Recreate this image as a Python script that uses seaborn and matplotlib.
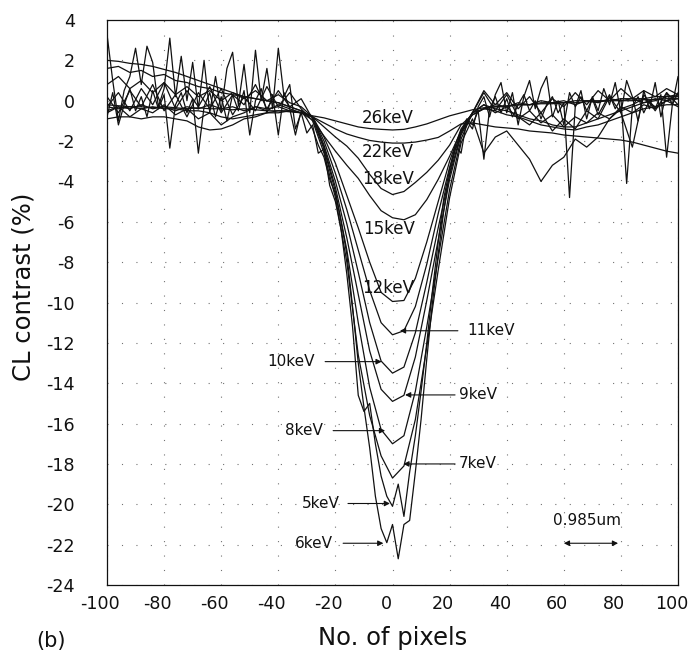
import matplotlib
matplotlib.use("Agg")
import matplotlib.pyplot as plt
import matplotlib.transforms as mtransforms
import pandas as pd
import seaborn as sns

# pixel positions along the line scan
pixels_fine = list(range(-100, 101, 2))     # 101 samples, used for the noisiest scans
pixels_coarse = list(range(-100, 101, 4))   # 51 samples

# CL contrast (%), one list per beam energy
cl_5kev = [
    3.3, 1.0, -1.0, 0.5, 1.2, 2.6, 0.8, 2.7, 1.9, -0.3, 0.6, 3.1, 0.2, 2.2, 0.0, 1.9, -0.4, 2.0,
    -0.6, 1.2, -0.5, 1.6, 2.4, -0.2, 1.8, -0.6, 2.5, 0.0, 1.6, -0.4, 2.6, 0.2, 0.8, -1.4, -0.6,
    -1.6, -1.2, -2.6, -2.4, -4.2, -5.0, -6.4, -8.6, -11.2, -14.6, -15.4, -15.0, -17.0, -18.6, -19.6, -20.1,
    -19.0, -20.6, -18.4, -16.6, -14.4, -12.0, -9.4, -7.0, -4.8, -3.4, -2.2, -2.6, -1.0, -1.4, -0.3,
    0.2, -0.8, 0.3, 0.9, -0.6, 0.4, -1.2, 0.2, 1.0, -0.4, 0.6, 1.2, -0.8, 0.0, -1.2, 0.4, -0.3, 0.5,
    -0.9, 0.2, -0.5, 0.6, -0.2, 0.9, -0.6, 1.0, 0.2, -1.0, 0.5, -0.4, 0.9, -0.8, 0.4, -0.2, 1.2]
cl_6kev = [
    -0.8, 0.4, -1.2, -0.2, 0.6, -0.5, 0.2, -0.8, 0.5, -0.4, 0.3, -2.35, -0.2, 0.4, -0.6, 0.1, -2.6, -0.3,
    0.4, -0.8, 0.2, -1.0, 0.3, -0.5, 0.5, -1.7, 0.0, 0.6, -0.6, 0.3, -1.7, 0.4, -0.4, -1.7, -0.5,
    -0.9, -1.4, -2.2, -2.8, -3.9, -4.6, -6.0, -7.6, -10.2, -13.0, -15.2, -17.2, -19.6, -21.2, -21.9, -21.0,
    -22.7, -21.0, -20.8, -18.4, -15.8, -12.8, -10.0, -7.6, -5.4, -3.6, -2.4, -1.6, -0.9, -1.2, -0.5,
    -2.9, -0.4, 0.2, -0.6, 0.1, -0.8, -0.2, 0.3, -0.5, 0.0, -0.9, -0.2, 0.2, -0.6, -0.1, -4.8, -0.3, 0.2,
    -0.5, 0.1, -0.7, -0.2, 0.3, -0.4, 0.1, -4.1, -0.3, 0.2, -0.6, 0.0, -0.4, 0.3, -2.8, -0.2, 0.4]
cl_7kev = [
    0.2, -0.6, 0.5, -0.3, 0.8, -0.5, 0.3, -0.8, 0.4, -0.4, 0.6, -0.7, 0.2, -0.5, 0.7, -0.3, 0.4, -0.4,
    -1.0, -2.6, -4.8, -8.0, -12.6, -15.6, -17.6, -18.7, -18.1, -15.8, -12.2, -8.4, -4.8, -2.1, -0.9,
    -2.6, -1.8, -1.5, -2.2, -2.9, -4.0, -3.2, -2.8, -1.9, -2.3, -1.8, -0.9, -0.4, -0.2, 0.1, -0.3, 0.0, 0.3]
cl_8kev = [
    -0.3, 0.4, -0.5, 0.6, -0.2, 0.9, -0.4, 0.5, -0.3, 0.7, -0.6, 0.3, -0.2, 0.8, -0.4, 0.5, -0.3, 0.1,
    -0.9, -2.4, -4.5, -7.4, -11.0, -14.2, -16.3, -17.0, -16.6, -14.4, -11.2, -7.8, -4.4, -1.9, -0.6,
    0.4, -0.5, 0.3, -0.8, -1.2, -0.6, -1.5, -0.9, -1.4, -0.5, -0.9, 0.2, -0.6, -2.3, 0.3, -0.5, 0.4, -0.2]
cl_9kev = [
    -0.6, -0.3, -0.8, -0.4, -0.6, -0.2, -0.7, -0.4, -0.9, -0.6, -1.2, -0.8, -0.6, -0.3, -0.5, -0.2, -0.4, -0.6,
    -0.8, -2.3, -4.3, -6.8, -9.6, -12.4, -14.3, -14.9, -14.6, -12.7, -9.9, -6.9, -3.9, -1.7, -0.6,
    -0.2, -0.6, -0.3, -0.9, -0.5, -1.1, -0.7, -1.3, -0.8, -1.1, -0.6, -0.9, -0.3, -0.6, -0.2, -0.4, 0.0, -0.3]
cl_10kev = [
    0.8, 1.2, 0.6, 1.0, 0.4, 0.9, 0.3, 0.7, 0.2, 0.5, 0.0, 0.4, 0.1, 0.5, 0.0, 0.3, -0.1, -0.3,
    -0.8, -2.2, -4.0, -6.1, -8.5, -11.0, -12.9, -13.5, -13.2, -11.5, -9.0, -6.3, -3.7, -1.6, -0.6,
    0.5, -0.2, 0.4, -0.4, 0.2, -0.6, 0.1, -0.3, 0.4, -0.2, 0.5, 0.0, 0.6, 0.1, 0.5, 0.2, 0.6, 0.3]
cl_11kev = [
    -0.5, -0.3, -0.4, -0.2, -0.4, -0.3, -0.5, -0.3, -0.4, -0.2, -0.4, -0.3, -0.5, -0.3, -0.4, -0.3, -0.5, -0.6,
    -0.8, -2.0, -3.6, -5.4, -7.4, -9.4, -11.0, -11.6, -11.4, -10.2, -8.1, -5.6, -3.3, -1.5, -0.6,
    -0.4, -0.2, -0.3, -0.1, -0.2, 0.0, -0.1, 0.0, -0.2, 0.0, -0.1, 0.1, 0.0, 0.1, -0.1, 0.1, 0.0, 0.1]
cl_12kev = [
    1.6, 1.7, 1.4, 1.5, 1.2, 1.3, 1.0, 0.9, 0.7, 0.6, 0.4, 0.3, 0.2, 0.1, 0.0, -0.1, -0.3, -0.5,
    -0.8, -1.8, -3.1, -4.7, -6.3, -8.0, -9.5, -9.95, -9.9, -8.8, -7.0, -5.0, -3.0, -1.4, -0.6,
    -0.2, -0.4, -0.5, -0.7, -0.9, -1.0, -1.2, -1.3, -1.3, -1.1, -0.9, -0.7, -0.5, -0.3, -0.1, 0.0, 0.2, 0.3]
cl_15kev = [
    -0.9, -0.8, -0.8, -0.9, -0.8, -0.8, -0.9, -1.0, -1.3, -1.45, -1.4, -1.2, -0.9, -0.8, -0.6, -0.6, -0.5, -0.6,
    -0.95, -1.75, -2.5, -3.2, -3.85, -4.7, -5.45, -5.8, -5.9, -5.65, -4.9, -3.9, -2.75, -1.5, -0.7,
    -0.4, -0.3, -0.3, -0.2, -0.2, -0.1, -0.1, -0.1, 0.0, 0.0, 0.0, 0.0, 0.1, 0.1, 0.1, 0.2, 0.2, 0.2]
cl_18kev = [
    -0.3, -0.4, -0.3, -0.4, -0.3, -0.4, -0.4, -0.5, -0.5, -0.6, -0.8, -0.9, -0.8, -0.7, -0.6, -0.5, -0.5, -0.6,
    -0.8, -1.3, -1.8, -2.25, -2.85, -3.65, -4.35, -4.65, -4.5, -4.05, -3.55, -2.95, -2.2, -1.2, -0.7,
    -0.4, -0.5, -0.7, -0.8, -1.0, -1.2, -1.3, -1.4, -1.45, -1.3, -1.2, -1.0, -0.8, -0.6, -0.4, -0.3, -0.2, -0.2]
cl_22kev = [
    2.0, 1.95, 1.85, 1.8, 1.7, 1.55, 1.4, 1.2, 1.0, 0.8, 0.6, 0.4, 0.2, 0.1, 0.0, -0.1, -0.3, -0.5,
    -0.8, -1.1, -1.4, -1.65, -1.82, -1.97, -2.05, -2.1, -2.1, -2.05, -1.95, -1.82, -1.5, -1.15, -1.1,
    -1.2, -1.3, -1.35, -1.4, -1.5, -1.55, -1.6, -1.7, -1.75, -1.8, -1.85, -1.9, -1.95, -2.05, -2.2, -2.35, -2.5, -2.6]
cl_26kev = [
    -0.2, -0.25, -0.3, -0.3, -0.35, -0.3, -0.35, -0.4, -0.35, -0.4, -0.4, -0.45, -0.4, -0.45, -0.5, -0.5, -0.55, -0.6,
    -0.75, -0.85, -1.0, -1.15, -1.3, -1.38, -1.42, -1.45, -1.42, -1.3, -1.15, -0.95, -0.75, -0.6, -0.45,
    -0.35, -0.3, -0.25, -0.2, -0.2, -0.15, -0.15, -0.1, -0.1, -0.05, -0.05, 0.0, 0.0, 0.0, 0.05, 0.05, 0.1, 0.1]

scans = [
    ("5keV", pixels_fine, cl_5kev), ("6keV", pixels_fine, cl_6kev),
    ("7keV", pixels_coarse, cl_7kev), ("8keV", pixels_coarse, cl_8kev),
    ("9keV", pixels_coarse, cl_9kev), ("10keV", pixels_coarse, cl_10kev),
    ("11keV", pixels_coarse, cl_11kev), ("12keV", pixels_coarse, cl_12kev),
    ("15keV", pixels_coarse, cl_15kev), ("18keV", pixels_coarse, cl_18kev),
    ("22keV", pixels_coarse, cl_22kev), ("26keV", pixels_coarse, cl_26kev),
]

# labels written on the curves (x, y in data units)
inline_labels = [("26keV", -1.6, -0.87), ("22keV", -1.6, -2.53), ("18keV", -1.6, -3.9),
                 ("15keV", -1.2, -6.38), ("12keV", -1.6, -9.3)]
# labels with arrows: text, text x, tail x, head x, y, side of text
arrow_labels = [("11keV", 26.1, 22.9, 2.6, -11.4, "left"),
                ("10keV", -27.1, -23.6, -3.8, -12.93, "right"),
                ("9keV", 23.3, 21.9, 4.4, -14.58, "left"),
                ("8keV", -24.3, -20.8, -2.6, -16.35, "right"),
                ("7keV", 23.3, 21.9, 3.8, -18.0, "left"),
                ("5keV", -18.4, -15.6, -0.9, -19.96, "right"),
                ("6keV", -20.8, -17.3, -3.2, -21.93, "right")]

sns.set_theme(style="white")
plt.rcParams["font.family"] = ["DejaVu Sans"]
plt.rcParams["axes.unicode_minus"] = False

rows = []
for energy, xs, ys in scans:
    for x, y in zip(xs, ys):
        rows.append({"energy": energy, "pixel": x, "contrast": y})
df = pd.DataFrame(rows)

fig = plt.figure(figsize=(6.93, 6.53), dpi=100)
ax = fig.add_axes([0.1544, 0.1041, 0.8240, 0.8653])

sns.lineplot(data=df, x="pixel", y="contrast", units="energy", estimator=None,
             sort=False, color="#111111", lw=0.9, ax=ax, legend=False)

ax.set_xlim(-100, 100)
ax.set_ylim(-24, 4)
ax.set_xticks(range(-100, 101, 20))
ax.set_yticks(range(-24, 5, 2))
ax.set_axisbelow(True)
ax.grid(True, color="0.45", linestyle=(0, (1, 12)), linewidth=0.8)
ax.tick_params(direction="in", length=8.6, width=0.9, colors="#111111", labelsize=12.6)
ax.tick_params(axis="x", pad=7)
ax.tick_params(axis="y", pad=23)
for sp in ax.spines.values():
    sp.set_color("#111111")
    sp.set_linewidth(0.9)

# the scanned figure has its x tick numbers sitting a little left of the ticks
shift = mtransforms.ScaledTranslation(-0.065, 0, fig.dpi_scale_trans)
for lab in ax.get_xticklabels():
    lab.set_transform(lab.get_transform() + shift)

ax.set_xlabel("No. of pixels", fontsize=17.5, color="#111111", va="center")
ax.xaxis.set_label_coords(0.5, -0.094)
ax.set_ylabel("CL contrast (%)", fontsize=17.5, color="#111111", va="center")
ax.yaxis.set_label_coords(-0.147, 0.527)

for txt, x, y in inline_labels:
    ax.text(x, y, txt, fontsize=12, ha="center", va="center", color="#111111")

for txt, tx, tail, head, y, side in arrow_labels:
    ax.annotate("", xy=(head, y), xytext=(tail, y),
                arrowprops=dict(arrowstyle="-|>", color="#111111", lw=0.8,
                                mutation_scale=8, shrinkA=0, shrinkB=0))
    ax.text(tx, y, txt, fontsize=11, ha=side, va="center", color="#111111")

# scale bar
ax.annotate("", xy=(60, -21.93), xytext=(79, -21.93),
            arrowprops=dict(arrowstyle="<|-|>", color="#111111", lw=0.8,
                            mutation_scale=8, shrinkA=0, shrinkB=0))
ax.text(68, -20.78, "0.985um", fontsize=11, ha="center", va="center", color="#111111")

fig.text(0.0736, 0.0184, "(b)", fontsize=15, ha="center", va="center", color="#111111")

fig.savefig("out.png", dpi=100)
